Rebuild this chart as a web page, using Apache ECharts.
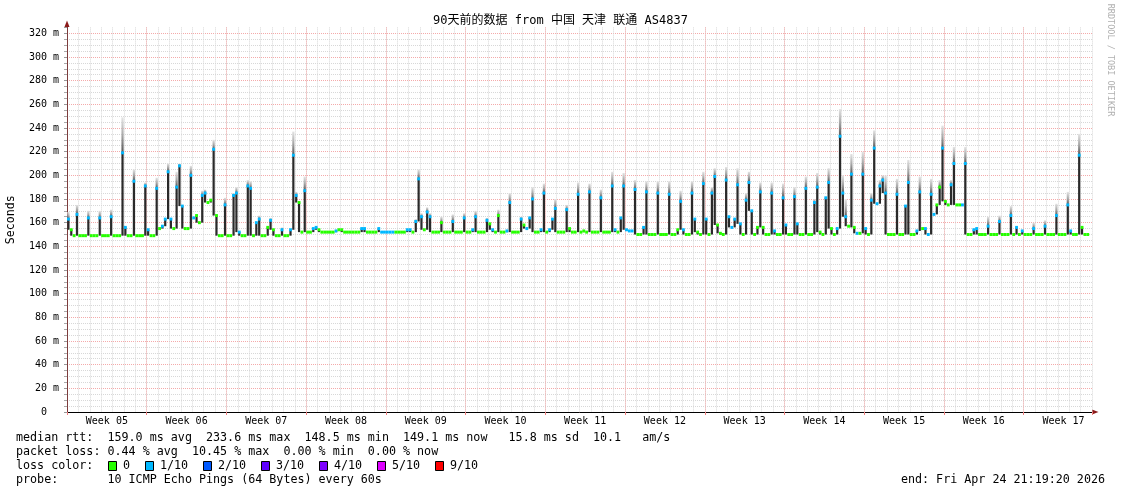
<!DOCTYPE html>
<html>
<head>
<meta charset="utf-8">
<script src="https://cdn.jsdelivr.net/npm/echarts@6/dist/echarts.min.js"></script>
<style>html,body{margin:0;padding:0;background:#fff}#c{width:1121px;height:494px}</style>
</head>
<body>
<div id="c"></div>
<script>
// ---------- data ----------
const titleText = '90天前的数据 from 中国 天津 联通 AS4837';
const weekLabels = ['05','06','07','08','09','10','11','12','13','14','15','16','17'];
const BIN_DAYS = 0.25; // one sample every 6 hours, 90 days
// median rtt per 6h sample (ms)
const median = [
163,154,149,167, 149,149,149,164, 149,149,149,164, 149,149,149,165, 149,149,149,219, 156,149,149,195, 149,149,149,191,
154,149,149,189, 155,157,163,203, 163,155,190,208, 174,155,155,200, 164,166,160,183, 185,177,179,222, 166,149,149,175,
149,149,183,185, 152,149,149,191, 189,149,160,163, 149,149,156,162, 154,149,149,154, 149,149,154,217, 183,177,152,187,
152,152,155,156, 154,152,152,152, 152,152,153,154, 154,152,152,152, 152,152,152,155, 155,152,152,152, 152,155,152,152,
152,152,152,152, 152,152,152,154, 154,152,161,197, 165,154,169,165, 152,152,152,160, 152,152,152,161, 152,152,152,164,
152,152,154,165, 152,152,152,162, 159,154,152,166, 152,152,153,177, 152,152,152,163, 158,155,164,180, 152,152,154,185,
152,154,163,172, 152,152,152,171, 155,152,152,184, 152,153,152,186, 152,152,152,181, 152,152,152,191, 154,152,164,191,
154,153,153,188, 150,150,156,186, 150,150,150,185, 150,150,150,184, 150,150,154,178, 154,150,150,185, 163,152,150,193,
163,150,185,199, 158,151,150,196, 165,156,163,192, 159,150,179,194, 170,150,156,186, 156,150,150,185, 153,150,150,181,
158,150,150,182, 159,150,150,189, 150,150,177,190, 152,150,181,194, 155,150,155,233, 185,165,157,201, 156,151,151,201,
155,150,179,223, 176,191,196,185, 150,150,150,184, 150,150,174,194, 150,150,153,186, 155,155,150,184, 167,175,190,223,
178,175,192,210, 175,175,175,210, 150,150,154,155, 150,150,150,157, 150,150,150,161, 150,150,150,166, 150,156,150,153,
150,150,150,155, 150,150,150,157, 150,150,150,166, 150,150,150,175, 153,150,150,217, 156,150,150,null
];
// top of the ping "smoke" per sample (ms), 0 = no visible smoke
const smokeTop = [
169,0,0,175, 0,0,0,170, 0,0,0,170, 0,0,0,171, 0,0,0,249, 0,0,0,205, 0,0,0,194,
0,0,0,198, 0,0,0,210, 0,0,203,210, 0,0,0,208, 0,0,0,187, 188,0,0,230, 0,0,0,181,
0,0,185,190, 0,0,0,196, 195,0,0,166, 0,0,0,164, 0,0,0,156, 0,0,0,237, 186,0,0,199,
0,0,0,0, 0,0,0,0, 0,0,0,0, 0,0,0,0, 0,0,0,0, 0,0,0,0, 0,0,0,0,
0,0,0,0, 0,0,0,0, 0,0,163,205, 168,0,173,168, 0,0,0,165, 0,0,0,167, 0,0,0,168,
0,0,0,170, 0,0,0,164, 0,0,0,171, 0,0,0,185, 0,0,0,165, 0,0,0,190, 0,0,0,193,
0,0,0,180, 0,0,0,175, 0,0,0,194, 0,0,0,193, 0,0,0,188, 0,0,0,203, 0,0,0,202,
0,0,0,196, 0,0,0,195, 0,0,0,195, 0,0,0,195, 0,0,0,187, 0,0,0,195, 0,0,0,203,
0,0,190,206, 0,0,0,207, 0,0,0,206, 0,0,185,203, 0,0,0,194, 0,0,0,194, 0,0,0,193,
0,0,0,190, 0,0,0,199, 0,0,180,202, 0,0,0,206, 0,0,0,256, 200,180,0,218, 0,0,0,220,
0,0,185,238, 0,196,200,200, 0,0,0,197, 0,0,0,213, 0,0,0,199, 0,0,0,197, 0,0,196,242,
0,0,196,224, 0,0,0,224, 0,0,0,0, 0,0,0,165, 0,0,0,166, 0,0,0,174, 0,0,0,0,
0,0,0,160, 0,0,0,162, 0,0,0,176, 0,0,0,186, 0,0,0,235, 0,0,0,0
];
// packet loss level per sample (index into lossColors)
const lossLevel = [
1,0,0,1, 0,0,0,1, 0,0,0,1, 0,0,0,1, 0,0,0,1, 1,0,0,1, 0,0,0,1,
1,0,0,1, 0,1,1,1, 1,0,1,1, 1,0,0,1, 1,0,0,1, 1,0,0,1, 0,0,0,1,
0,0,1,1, 1,0,0,1, 1,0,1,1, 0,0,0,1, 0,0,0,1, 0,0,1,1, 1,0,0,1,
0,0,1,1, 0,0,0,0, 0,0,1,0, 0,0,0,0, 0,0,0,1, 1,0,0,0, 0,1,1,1,
1,1,1,0, 0,0,0,1, 1,0,1,1, 1,0,1,1, 0,0,0,0, 0,0,0,1, 0,0,0,1,
0,0,1,1, 0,0,0,1, 0,1,0,0, 0,0,1,1, 0,0,0,1, 0,1,1,1, 0,0,1,1,
0,1,1,1, 0,0,0,1, 0,0,0,1, 0,0,0,1, 0,0,0,1, 0,0,0,1, 1,0,1,1,
1,1,1,1, 0,0,1,1, 0,0,0,1, 0,0,0,1, 0,0,0,1, 1,0,0,1, 1,0,0,1,
1,0,1,1, 0,0,0,1, 1,1,1,1, 1,0,1,1, 1,0,0,1, 0,0,0,1, 1,0,0,1,
1,0,0,1, 1,0,0,1, 0,0,1,1, 0,0,1,1, 0,0,1,1, 1,1,0,1, 0,1,0,1,
1,0,1,1, 1,1,1,1, 0,0,0,1, 0,0,1,1, 0,0,1,1, 0,1,1,1, 1,0,0,1,
0,0,1,1, 0,0,1,1, 0,0,1,1, 0,0,0,1, 0,0,0,1, 0,0,0,1, 0,1,0,1,
0,0,0,1, 0,0,0,1, 0,0,0,1, 0,0,0,1, 1,0,0,1, 0,0,0,0
];
const lossLabels = ['0','1/10','2/10','3/10','4/10','5/10','9/10'];
const lossColors = ['#26ff00','#00b8ff','#0059ff','#5e00ff','#7e00ff','#dd00ff','#ff0000'];
const statLines = [
  'median rtt:  159.0 ms avg  233.6 ms max  148.5 ms min  149.1 ms now   15.8 ms sd  10.1   am/s',
  'packet loss: 0.44 % avg  10.45 % max  0.00 % min  0.00 % now',
  'loss color:',
  'probe:       10 ICMP Echo Pings (64 Bytes) every 60s'
];
const endText = 'end: Fri Apr 24 21:19:20 2026';
const creditText = 'RRDTOOL / TOBI OETIKER';

// ---------- build ----------
const MONO = "'DejaVu Sans Mono', monospace";
const TXT_FONT = "11.7px 'DejaVu Sans Mono', monospace";
const bins = median.map((m, i) => {
  const t0 = i * BIN_DAYS, t1 = t0 + BIN_DAYS;
  if (m == null) return [t0, t1, null, null, null, 0];
  const prev = median[i - 1] == null ? m : median[i - 1];
  const next = median[i + 1] == null ? m : median[i + 1];
  const nb = Math.min(prev, next);
  const lo = nb < m ? nb : m;
  const hi = Math.max(smokeTop[i], m);
  return [t0, t1, lo, m, hi, lossLevel[i]];
});

const BAR_W = 2.2;
function renderSmoke(params, api) {
  const med = api.value(3);
  if (isNaN(med)) return null;
  const t0 = api.value(0), t1 = api.value(1), lo = api.value(2), hi = api.value(4);
  const x0 = api.coord([t0, med])[0], x1 = api.coord([t1, med])[0];
  const w = Math.min(BAR_W, x1 - x0);
  const xc = (x0 + x1) / 2 - w / 2;
  const yMed = api.coord([t0, med])[1];
  const children = [];
  if (hi > med) {
    const yHi = api.coord([t0, hi])[1];
    children.push({ type: 'rect', shape: { x: xc, y: yHi, width: w, height: yMed - yHi },
      style: { fill: new echarts.graphic.LinearGradient(0, 0, 0, 1, [{ offset: 0, color: '#e4e4e4' }, { offset: 0.5, color: '#a8a8a8' }, { offset: 1, color: '#555' }]) } });
  }
  if (lo < med) {
    const yLo = api.coord([t0, lo])[1];
    children.push({ type: 'rect', shape: { x: xc, y: yMed, width: w, height: yLo - yMed }, style: { fill: '#2a2a2a' } });
  }
  return { type: 'group', children };
}
function renderMedian(params, api) {
  const m = api.value(3);
  if (isNaN(m)) return null;
  const a = api.coord([api.value(0), m]), b = api.coord([api.value(1), m]);
  return { type: 'rect', shape: { x: a[0], y: a[1] - 1.5, width: b[0] - a[0], height: 3 }, style: { fill: lossColors[api.value(5)] } };
}

const legendSquareX = [108, 145, 203, 261, 319, 377, 435];
const graphics = [];
graphics.push({ type: 'text', x: 560.5, y: 21, style: { text: titleText, font: "12px 'DejaVu Sans Mono', 'Noto Sans CJK SC', monospace", fill: '#000', textAlign: 'center', textVerticalAlign: 'middle', align: 'center', verticalAlign: 'middle' } });
graphics.push({ type: 'text', x: 1110, y: 60, rotation: -Math.PI / 2, style: { text: creditText, font: "8.5px 'DejaVu Sans Mono', monospace", fill: '#b0b0b0', textAlign: 'center', textVerticalAlign: 'middle', align: 'center', verticalAlign: 'middle' } });
statLines.forEach((s, k) => {
  graphics.push({ type: 'text', x: 16, y: 438 + 14 * k, style: { text: s, font: TXT_FONT, fill: '#000', textVerticalAlign: 'middle', verticalAlign: 'middle' } });
});
lossLabels.forEach((lab, k) => {
  graphics.push({ type: 'rect', shape: { x: legendSquareX[k] + 0.5, y: 461.5, width: 8, height: 9 }, style: { fill: lossColors[k], stroke: '#000', lineWidth: 1 } });
  graphics.push({ type: 'text', x: legendSquareX[k] + 15, y: 466, style: { text: lab, font: TXT_FONT, fill: '#000', textVerticalAlign: 'middle', verticalAlign: 'middle' } });
});
graphics.push({ type: 'text', x: 1105, y: 480, style: { text: endText, font: TXT_FONT, fill: '#000', textAlign: 'right', align: 'right', textVerticalAlign: 'middle', verticalAlign: 'middle' } });
graphics.push({ type: 'polygon', shape: { points: [[64.5, 27], [67, 20.5], [69.5, 27]] }, style: { fill: '#8b1a1a' } });
graphics.push({ type: 'polygon', shape: { points: [[1092, 409.5], [1098.5, 412], [1092, 414.5]] }, style: { fill: '#8b1a1a' } });

const chart = echarts.init(document.getElementById('c'), null, { renderer: 'canvas' });
chart.setOption({
  animation: false,
  backgroundColor: '#fff',
  grid: { left: 67, right: 29, top: 27.4, bottom: 82, outerBoundsMode: 'none', containLabel: false },
  xAxis: [
    { type: 'value', position: 'bottom', min: 0, max: 90, interval: 1,
      axisLine: { show: true, lineStyle: { color: '#000', width: 1 } }, axisTick: { show: false }, axisLabel: { show: false },
      splitLine: { show: true, lineStyle: { color: '#d8d8d8', type: [1, 1], width: 1 } } },
    { type: 'value', position: 'bottom', min: 0, max: 90, interval: 7,
      axisLine: { show: false }, axisTick: { show: true, length: 3, lineStyle: { color: '#f08080' } }, axisLabel: { show: false },
      splitLine: { show: true, showMinLine: false, showMaxLine: false, lineStyle: { color: '#f4aaaa', type: [1, 1], width: 1 } } },
    { type: 'value', position: 'bottom', min: 0, max: 90, interval: 3.5,
      axisLine: { show: false }, axisTick: { show: false }, splitLine: { show: false },
      axisLabel: { show: true, margin: 4, fontFamily: MONO, fontSize: 10, color: '#000', showMinLabel: true, showMaxLabel: true,
        formatter: v => { const w = (v - 3.5) / 7; return (Number.isInteger(w) && weekLabels[w]) ? 'Week ' + weekLabels[w] : ''; } } }
  ],
  yAxis: {
    type: 'value', min: 0, max: 325, interval: 20,
    name: 'Seconds', nameLocation: 'middle', nameGap: 50, nameRotate: 90,
    nameTextStyle: { fontFamily: MONO, fontSize: 11.6, color: '#000' },
    axisLine: { show: true, lineStyle: { color: '#7d3c3c', width: 1 } },
    axisTick: { show: true, length: 3, lineStyle: { color: '#999' } },
    minorTick: { show: true, splitNumber: 4, length: 3, lineStyle: { color: '#aaa' } },
    axisLabel: { margin: 8, fontFamily: MONO, fontSize: 10, color: '#000', showMaxLabel: false,
      formatter: v => v === 0 ? '0  ' : v + ' m' },
    splitLine: { show: true, showMaxLine: false, lineStyle: { color: '#f4aaaa', type: [1, 1], width: 1 } },
    minorSplitLine: { show: true, lineStyle: { color: '#d8d8d8', type: [1, 1], width: 1 } }
  },
  series: [
    { type: 'custom', name: 'smoke', xAxisIndex: 0, renderItem: renderSmoke, data: bins, encode: { x: [0, 1], y: [2, 3, 4] }, z: 2, silent: true },
    { type: 'custom', name: 'loss', xAxisIndex: 0, renderItem: renderMedian, data: bins, encode: { x: [0, 1], y: [3] }, z: 4, silent: true }
  ],
  graphic: graphics
});
</script>
</body>
</html>
